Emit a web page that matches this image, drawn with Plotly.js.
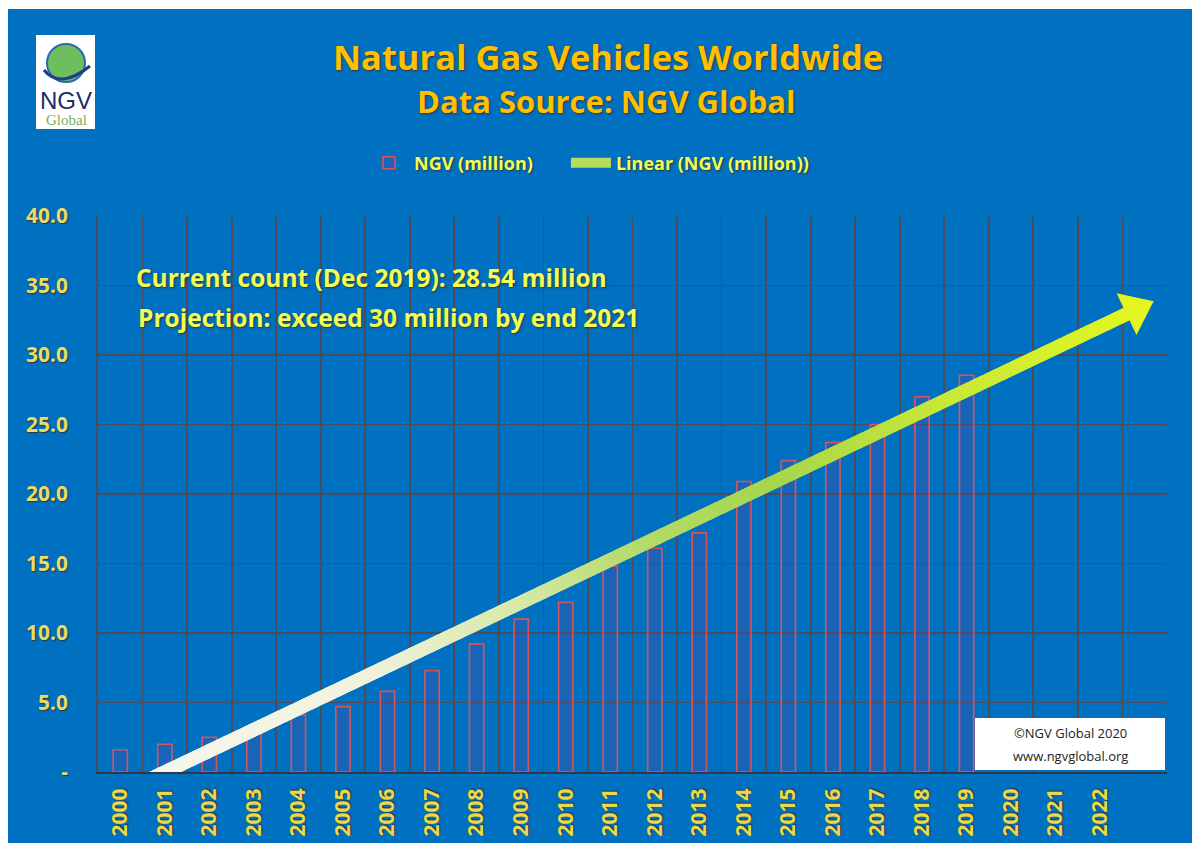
<!DOCTYPE html>
<html><head><meta charset="utf-8">
<script src="https://cdn.plot.ly/plotly-3.0.1.min.js"></script>
<style>html,body{margin:0;padding:0;background:#fff;overflow:hidden}
#chart{position:absolute;left:8px;top:9px;width:1184px;height:834px}</style>
</head><body><div id="chart"></div>
<script>
// ---- data ----
const years = [2000,2001,2002,2003,2004,2005,2006,2007,2008,2009,2010,2011,2012,2013,2014,2015,2016,2017,2018,2019];
const ngvMillion = [1.6,2.0,2.5,3.2,4.1,4.7,5.8,7.3,9.2,11.0,12.2,14.8,16.1,17.2,20.9,22.4,23.7,25.0,27.0,28.54];
const tickYears = [2000,2001,2002,2003,2004,2005,2006,2007,2008,2009,2010,2011,2012,2013,2014,2015,2016,2017,2018,2019,2020,2021,2022];
const tickLabels = tickYears.map(String);
const yTickVals = [0,5,10,15,20,25,30,35,40];
const yTickText = ['-','5.0','10.0','15.0','20.0','25.0','30.0','35.0','40.0'];
const seriesNames = ['NGV (million)', 'Linear (NGV (million))'];
const forecastForward = 4.2;   // trendline forecast (years past last point)

// ---- linear trend (least squares) ----
const n = years.length;
const mx = years.reduce((a,b)=>a+b,0)/n, my = ngvMillion.reduce((a,b)=>a+b,0)/n;
let sxy=0, sxx=0;
for(let i=0;i<n;i++){sxy+=(years[i]-mx)*(ngvMillion[i]-my); sxx+=(years[i]-mx)**2;}
const slope = sxy/sxx, icpt = my - slope*mx;
const trend = x => icpt + slope*x;

// geometry of plot area (page px)
const L=98, R=1167, T=216, B=772;
const X0=1999.5, X1=2023.5, Y0=0, Y1=40;
const pxYear=(R-L)/(X1-X0), pxUnit=(B-T)/(Y1-Y0);
const ang = Math.atan(slope*pxUnit/pxYear);
const headSize = 40, hr = headSize/2;
const tipYear = years[n-1] + forecastForward;
const headYear = tipYear - hr*Math.cos(ang)/pxYear;
const lineEnd = headYear - 0.3*hr*Math.cos(ang)/pxYear;
const N=500, tx=[], ty=[], tc=[];
for(let i=0;i<=N;i++){const x=years[0]+(lineEnd-years[0])*i/N; tx.push(x); ty.push(trend(x)); tc.push(i/N);}
const scale=[[0,'#F8F8F0'],[0.25,'#F0F2DC'],[0.4,'#D8E8A8'],[0.5,'#B8DC70'],[0.65,'#A6D64C'],[0.82,'#C8E838'],[1,'#E2F524']];

const px = x => (x-L)/(R-L);
const py = y => 1-(y-T)/(B-T);

const FONT = '"Open Sans", Lato, sans-serif';
const pad = '\u00a0'.repeat(6);   // spacing between legend entries
const traces = [
 {type:'bar', x:years, y:ngvMillion, name:seriesNames[0]+pad, width:0.32,
  marker:{color:'rgba(120,60,150,0.22)', line:{color:'#D8545C', width:1.6}}, hoverinfo:'skip'},
 {type:'scatter', mode:'lines', x:[years[0], lineEnd], y:[trend(years[0]), trend(lineEnd)],
  name:seriesNames[1], line:{color:'#B6DC5C', width:12}, hoverinfo:'skip'},
 {type:'scatter', mode:'markers', x:tx, y:ty, showlegend:false, hoverinfo:'skip',
  marker:{size:14, color:tc, colorscale:scale, cmin:0, cmax:1, line:{width:0}}},
 {type:'scatter', mode:'markers', x:[headYear], y:[trend(headYear)], showlegend:false, hoverinfo:'skip',
  marker:{symbol:'triangle-up', size:headSize, color:'#E4F520', angle:90-ang*180/Math.PI, line:{width:0}}}
];

const yel = '#F2FF58';
const sh = '1px 1px 2px #333';
const ann = (x,y,text,size,color,extra) => Object.assign({xref:'paper', yref:'paper', x:px(x), y:py(y), text:text,
  showarrow:false, xanchor:'center', yanchor:'middle',
  font:{family:FONT, size:size, color:color, weight:'bold', shadow:sh}}, extra||{});
const layout = {
 width:1184, height:834,
 margin:{l:90, r:25, t:207, b:71},
 paper_bgcolor:'#0070C0', plot_bgcolor:'#0070C0',
 font:{family:FONT, color:yel},
 showlegend:true,
 legend:{orientation:'h', x:px(364), xanchor:'left', y:py(163), yanchor:'middle',
   font:{family:FONT, size:18, color:yel, weight:'bold', shadow:sh}, bgcolor:'rgba(0,0,0,0)', itemwidth:40},
 xaxis:{range:[X0,X1], tickmode:'array', tickvals:tickYears, ticktext:tickLabels, tickangle:-90,
   showgrid:false, zeroline:false, ticks:'', ticklabelstandoff:6,
   tickfont:{family:FONT, size:21, color:'#EAD84E', weight:'bold', shadow:'1px 1px 1px #333'},
   minor:{tickmode:'linear', tick0:X0, dtick:1, showgrid:true, gridcolor:'#4A4C5C', gridwidth:1.8, ticks:''},
   showline:true, linecolor:'#333845', linewidth:2, mirror:false, fixedrange:true},
 yaxis:{range:[Y0,Y1], tickmode:'array', tickvals:yTickVals, ticktext:yTickText,
   showgrid:true, gridcolor:'#4A4C5C', gridwidth:1.8, zeroline:false, ticks:'', ticklabelstandoff:24,
   tickfont:{family:FONT, size:21, color:'#E8DC6A', weight:'bold', shadow:'1px 1px 1px #333'},
   showline:true, linecolor:'#4A4C5C', linewidth:1.8, fixedrange:true},
 shapes:[
  {type:'rect', xref:'paper', yref:'paper', x0:px(36), x1:px(95), y0:py(129), y1:py(35), fillcolor:'#FFFFFF', line:{width:0}, layer:'above'},
  {type:'circle', xref:'paper', yref:'paper', x0:px(47), x1:px(85), y0:py(82), y1:py(44), fillcolor:'#6CBF5C', line:{color:'#2E67B0', width:2}, layer:'above'},
  {type:'path', xref:'paper', yref:'paper', layer:'above', line:{color:'#1E3C8C', width:3},
   path:'M '+px(44)+','+py(70)+' Q '+px(60)+','+py(90)+' '+px(90)+','+py(66)},
  {type:'rect', xref:'paper', yref:'paper', x0:px(975), x1:px(1165), y0:py(770), y1:py(718), fillcolor:'#FFFFFF', line:{width:0}, layer:'above'}
 ],
 annotations:[
  ann(608,56,'Natural Gas Vehicles Worldwide',34.5,'#FFC000'),
  ann(606,101,'Data Source: NGV Global',31,'#FFC000'),
  ann(134,277,'Current count (Dec 2019): 28.54 million',24.5,yel,{xanchor:'left'}),
  ann(136,317,'Projection: exceed 30 million by end 2021',24.5,yel,{xanchor:'left'}),
  {xref:'paper', yref:'paper', x:px(66), y:py(101), xanchor:'center', yanchor:'middle', text:'NGV', showarrow:false,
   font:{family:'Liberation Sans, Arial, sans-serif', size:24, color:'#1E2D6A'}},
  {xref:'paper', yref:'paper', x:px(66), y:py(120), xanchor:'center', yanchor:'middle', text:'Global', showarrow:false,
   font:{family:'Liberation Serif, serif', size:15, color:'#7AAE5A'}},
  {xref:'paper', yref:'paper', x:px(1070), y:py(733), xanchor:'center', yanchor:'middle', text:'©NGV Global 2020', showarrow:false,
   font:{family:'"Open Sans", sans-serif', size:13, color:'#222'}},
  {xref:'paper', yref:'paper', x:px(1070), y:py(756), xanchor:'center', yanchor:'middle', text:'www.ngvglobal.org', showarrow:false,
   font:{family:'"Open Sans", sans-serif', size:13, color:'#222'}}
 ]
};
Plotly.newPlot('chart', traces, layout, {staticPlot:true, displayModeBar:false});
</script></body></html>
